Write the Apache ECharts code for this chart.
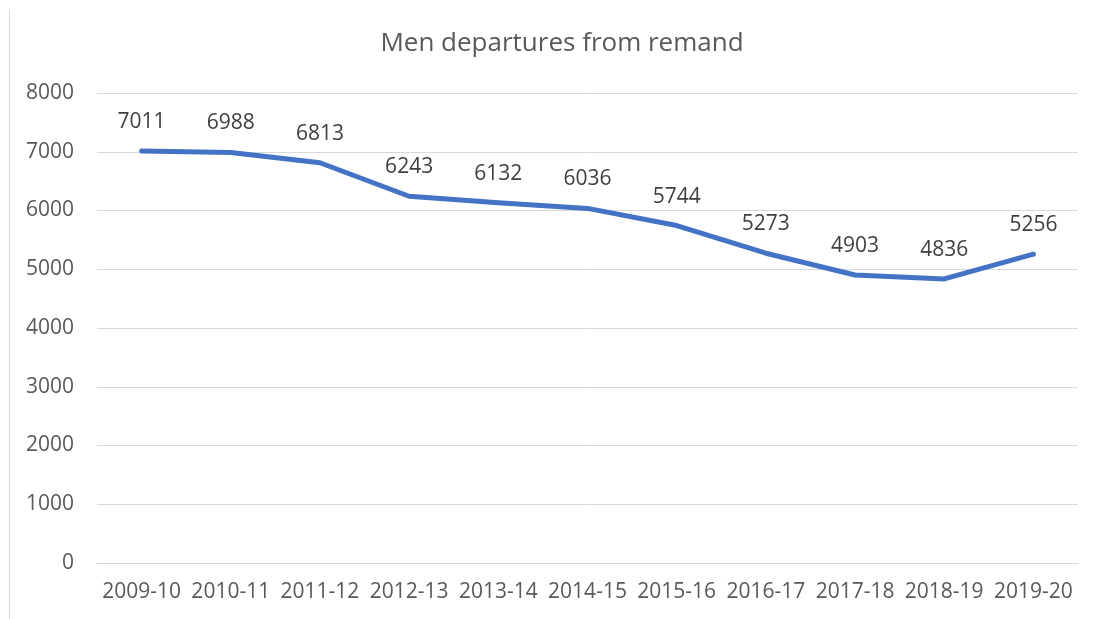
<!DOCTYPE html>
<html><head><meta charset="utf-8">
<script src="https://cdn.jsdelivr.net/npm/echarts@6/dist/echarts.min.js"></script>
<style>html,body{margin:0;padding:0;background:#fff}#c{width:1098px;height:619px}</style>
</head><body><div id="c"></div>
<script>
const titleText = 'Men departures from remand';
const categories = ['2009-10','2010-11','2011-12','2012-13','2013-14','2014-15','2015-16','2016-17','2017-18','2018-19','2019-20'];
const departures = [7011, 6988, 6813, 6243, 6132, 6036, 5744, 5273, 4903, 4836, 5256];
const yTicks = {min: 0, max: 8000, interval: 1000};

const font = '"Open Sans", sans-serif';
const chart = echarts.init(document.getElementById('c'), null, {renderer: 'canvas'});
chart.setOption({
  animation: false,
  backgroundColor: '#fff',
  title: {
    text: titleText, left: 557, top: 26, textAlign: 'center',
    textStyle: {fontFamily: font, fontSize: 26, fontWeight: 'normal', color: '#595959'}
  },
  graphic: [{type: 'line', shape: {x1: 9.5, y1: 9, x2: 9.5, y2: 619}, style: {stroke: '#d9d9d9', lineWidth: 1}}],
  grid: {left: 97, right: 20, top: 93, bottom: 56, containLabel: false},
  xAxis: {
    type: 'category', data: categories, boundaryGap: true,
    axisLine: {show: true, lineStyle: {color: '#d9d9d9', width: 1}},
    axisTick: {show: false},
    axisLabel: {color: '#595959', fontFamily: font, fontSize: 21, margin: 19, interval: 0}
  },
  yAxis: {
    type: 'value', min: yTicks.min, max: yTicks.max, interval: yTicks.interval,
    axisLine: {show: false}, axisTick: {show: false},
    splitLine: {lineStyle: {color: '#d9d9d9', width: 1}},
    axisLabel: {color: '#595959', fontFamily: font, fontSize: 21, margin: 23, formatter: v => String(v)}
  },
  series: [{
    type: 'line', data: departures,
    symbol: 'circle', symbolSize: 1, showSymbol: true,
    itemStyle: {color: '#4472C4'},
    lineStyle: {color: '#4472C4', width: 5, cap: 'round', join: 'round'},
    label: {show: true, position: 'top', distance: 18, color: '#404040', fontFamily: font, fontSize: 21}
  }]
});
</script></body></html>
